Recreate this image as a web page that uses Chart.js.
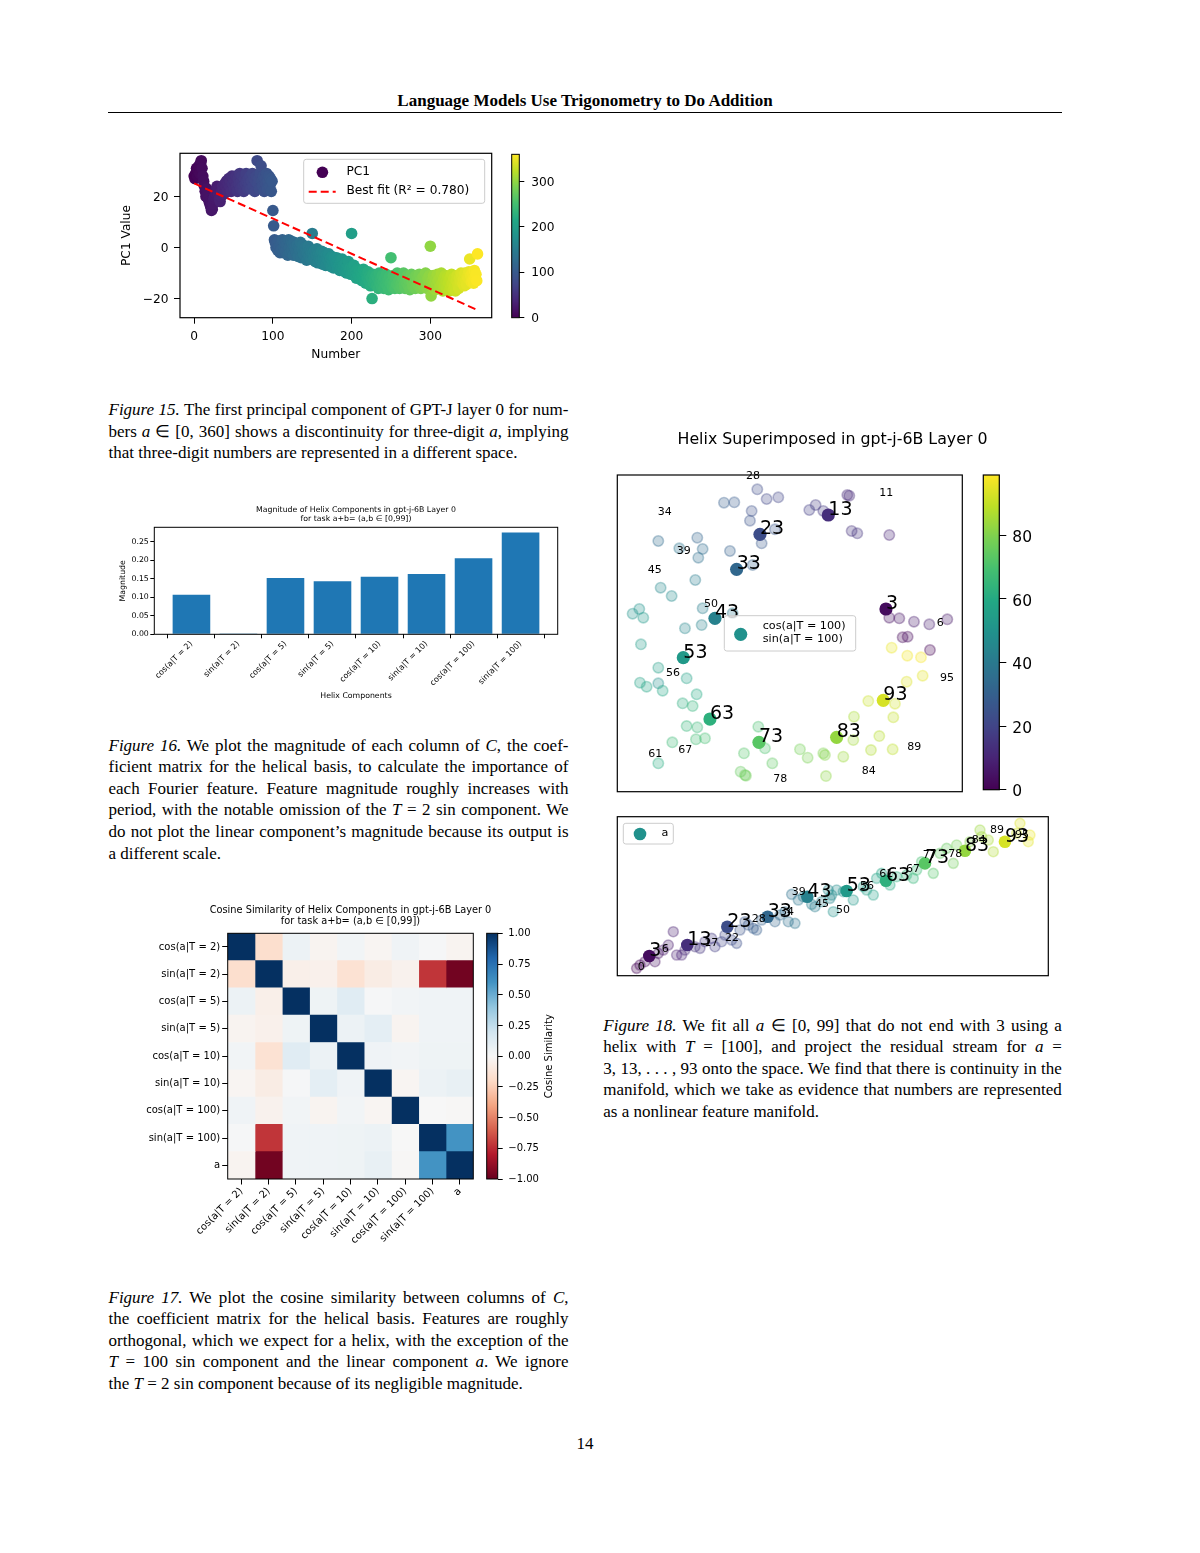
<!DOCTYPE html>
<html><head><meta charset="utf-8">
<script src="https://cdn.jsdelivr.net/npm/chart.js@4.4.0/dist/chart.umd.min.js"></script>
<style>
html,body{margin:0;padding:0;background:#fff;}
body{width:1200px;height:1553px;position:relative;overflow:hidden;font-family:'Liberation Serif','Times New Roman',serif;color:#000;}
canvas{position:absolute;}
.hdr{position:absolute;left:108px;width:954px;top:90px;text-align:center;font-weight:bold;font-size:17px;line-height:21.7px;}
.rule{position:absolute;left:108px;width:954px;top:111.6px;height:0;border-top:1.3px solid #000;}
.cap{position:absolute;font-size:17px;line-height:21.65px;}
.cap .l{white-space:nowrap;}
.pnum{position:absolute;left:0;width:1170px;top:1433px;text-align:center;font-size:17px;line-height:21.7px;}
</style></head>
<body>
<div class="hdr">Language Models Use Trigonometry to Do Addition</div>
<div class="rule"></div>

<canvas id="c15" width="400" height="230" style="left:100px;top:140px"></canvas>
<canvas id="c15cb" width="70" height="230" style="left:505px;top:140px"></canvas>
<canvas id="c16" width="460" height="215" style="left:110px;top:495px"></canvas>
<canvas id="c17" width="430" height="360" style="left:140px;top:895px"></canvas>
<canvas id="c17cb" width="90" height="360" style="left:480px;top:895px"></canvas>
<canvas id="c18a" width="445" height="385" style="left:605px;top:420px"></canvas>
<canvas id="c18cb" width="75" height="385" style="left:975px;top:420px"></canvas>
<canvas id="c18b" width="450" height="175" style="left:605px;top:810px"></canvas>

<div class="cap" style="left:108.5px;top:399px;width:460px">
<div class="l"><span><i>Figure 15.</i> The first principal component of GPT-J layer 0 for num-</span></div>
<div class="l"><span>bers <i>a</i> ∈ [0, 360] shows a discontinuity for three-digit <i>a</i>, implying</span></div>
<div class="l last"><span>that three-digit numbers are represented in a different space.</span></div>
</div>

<div class="cap" style="left:108.5px;top:734.5px;width:460px">
<div class="l"><span><i>Figure 16.</i> We plot the magnitude of each column of <i>C</i>, the coef-</span></div>
<div class="l"><span>ficient matrix for the helical basis, to calculate the importance of</span></div>
<div class="l"><span>each Fourier feature. Feature magnitude roughly increases with</span></div>
<div class="l"><span>period, with the notable omission of the <i>T</i> = 2 sin component. We</span></div>
<div class="l"><span>do not plot the linear component’s magnitude because its output is</span></div>
<div class="l last"><span>a different scale.</span></div>
</div>

<div class="cap" style="left:108.5px;top:1286.5px;width:460px">
<div class="l"><span><i>Figure 17.</i> We plot the cosine similarity between columns of <i>C</i>,</span></div>
<div class="l"><span>the coefficient matrix for the helical basis. Features are roughly</span></div>
<div class="l"><span>orthogonal, which we expect for a helix, with the exception of the</span></div>
<div class="l"><span><i>T</i> = 100 sin component and the linear component <i>a</i>. We ignore</span></div>
<div class="l last"><span>the <i>T</i> = 2 sin component because of its negligible magnitude.</span></div>
</div>

<div class="cap" style="left:603.3px;top:1014.5px;width:458.5px">
<div class="l"><span><i>Figure 18.</i> We fit all <i>a</i> ∈ [0, 99] that do not end with 3 using a</span></div>
<div class="l"><span>helix with <i>T</i> = [100], and project the residual stream for <i>a</i> =</span></div>
<div class="l"><span>3, 13, . . . , 93 onto the space. We find that there is continuity in the</span></div>
<div class="l"><span>manifold, which we take as evidence that numbers are represented</span></div>
<div class="l last"><span>as a nonlinear feature manifold.</span></div>
</div>

<div class="pnum">14</div>

<script>
// ---------------- DATA ----------------
// Figure 15: PC1 value for each number a = 0..360
const pc1Values = [
 28, 27, 29, 31, 28, 30, 32, 29, 33, 34,
 31, 28, 26, 24, 22, 20, 23, 21, 19, 18,
 17, 16, 14.5, 15, 17, 19, 20, 22, 21, 24,
 23, 21, 19, 18, 20, 22, 24, 23, 21, 25,
 24, 26, 22, 25, 27, 24, 26, 22, 28, 25,
 27, 23, 26, 28, 24, 22, 27, 25, 29, 23,
 26, 28, 24, 22, 27, 25, 29, 26, 23, 27,
 25, 28, 23, 26, 29, 24, 27, 22, 26, 28,
 34, 25, 27, 23, 29, 32, 26, 24, 28, 22,
 27, 25, 29, 23, 26, 28, 24, 27, 22, 26,
 14.5, 8.5, 3, 2, 0, 1.5, -1, 2.5, 0.5, -2,
 1, -0.5, 3, -2, 0, 2, -1.5, 2.5, 1, -3,
 3, 0, -2, 2.5, -1, 1.5, -3, 2, 0, -1,
 -2, 1, -3.5, 0, -1, 2, -4, -0.5, 1, -2.5,
 -3, 0, -1.5, -5, -2, 0.5, -3.5, -1, -4.5, -2,
 5.5, -2, -4, -1, -5.5, -3, -0.5, -6, -2.5, -4,
 -3, -5, -1.5, -6.5, -4, -2, -5, -7, -3, -4.5,
 -5, -2.5, -6, -4, -7.5, -3.5, -5.5, -8, -4, -6,
 -6, -4, -8, -5, -7, -9, -5.5, -7.5, -4.5, -8.5,
 -7, -9.5, -6, -8, -10, -7.5, -5.5, -9, -8, -10.5,
 5.5, -8, -10, -7, -11, -9, -12, -8.5, -10.5, -11.5,
 -9, -12, -10, -13, -11, -8.5, -12.5, -10, -14, -11,
 -12, -9.5, -13.5, -11, -15, -12, -20, -10.5, -14, -12.5,
 -13, -11, -15, -12, -16, -10, -14, -12.5, -15.5, -11,
 -13.5, -16, -12, -14.5, -10.5, -15, -13, -16.5, -11.5, -14,
 -4, -13, -15.5, -11, -14, -16, -12, -14.5, -10, -15,
 -13, -16, -11.5, -14, -15.5, -12, -10, -14.5, -16, -12.5,
 -14, -11, -15, -13, -16.5, -12, -10.5, -14, -15.5, -12,
 -13.5, -16, -11, -14.5, -12, -15, -10.5, -13, -16, -12.5,
 -14, -11.5, -15.5, -13, -10, -14.5, -16, -12, -13.5, -11,
 0.5, -19, -13, -15.5, -11, -14, -16.5, -12, -14.5, -10.5,
 -13, -16, -12, -15, -10, -14, -17, -12.5, -15, -11,
 -13.5, -16, -11.5, -14, -17, -12, -15.5, -10.5, -14, -16.5,
 -12, -15, -17, -13, -11, -14.5, -16, -12, -13.5, -10,
 -11, -14, -12.5, -15, -10, -13, -14.5, -11.5, -12, -9.5,
 -4.5, -11, -13.5, -10, -12.5, -14, -9, -12, -10.5, -13,
 -2.5
];
const pcXTicks = [0, 100, 200, 300];
const pcYTicks = [-20, 0, 20];
const pcCbTicks = [0, 100, 200, 300];
const fitX = [0, 360];
const fitY = [25.1, -24.5];
const fitLabel = 'Best fit (R\u00b2 = 0.780)';

// Figure 16
const helixComponents = ['cos(a|T = 2)','sin(a|T = 2)','cos(a|T = 5)','sin(a|T = 5)','cos(a|T = 10)','sin(a|T = 10)','cos(a|T = 100)','sin(a|T = 100)'];
const helixMagnitudes = [0.107, 0.0005, 0.152, 0.143, 0.155, 0.163, 0.205, 0.275];
const magTicks = [0, 0.05, 0.10, 0.15, 0.20, 0.25];

// Figure 17
const cosLabels = ['cos(a|T = 2)','sin(a|T = 2)','cos(a|T = 5)','sin(a|T = 5)','cos(a|T = 10)','sin(a|T = 10)','cos(a|T = 100)','sin(a|T = 100)','a'];
const cosRowCos2   = [ 1.00, -0.17,  0.06, -0.03,  0.03, -0.02,  0.04,  0.01, -0.03];
const cosRowSin2   = [-0.17,  1.00, -0.06, -0.05, -0.15, -0.08, -0.04, -0.72, -0.97];
const cosRowCos5   = [ 0.06, -0.06,  1.00,  0.05,  0.12,  0.01,  0.03,  0.04,  0.04];
const cosRowSin5   = [-0.03, -0.05,  0.05,  1.00,  0.06,  0.10, -0.03,  0.04,  0.04];
const cosRowCos10  = [ 0.03, -0.15,  0.12,  0.06,  1.00,  0.04,  0.03,  0.05,  0.05];
const cosRowSin10  = [-0.02, -0.08,  0.01,  0.10,  0.04,  1.00, -0.02,  0.06,  0.08];
const cosRowCos100 = [ 0.04, -0.04,  0.03, -0.03,  0.03, -0.02,  1.00,  0.00, -0.01];
const cosRowSin100 = [ 0.01, -0.72,  0.04,  0.04,  0.05,  0.06,  0.00,  1.00,  0.60];
const cosRowA      = [-0.03, -0.97,  0.04,  0.04,  0.05,  0.08, -0.01,  0.60,  1.00];
const cosMatrix = [cosRowCos2, cosRowSin2, cosRowCos5, cosRowSin5, cosRowCos10, cosRowSin10, cosRowCos100, cosRowSin100, cosRowA];
const cosCbTicks = [-1, -0.75, -0.5, -0.25, 0, 0.25, 0.5, 0.75, 1];

// Figure 18 (top): projection onto cos/sin(a|T=100)
const topBigA = [3, 13, 23, 33, 43, 53, 63, 73, 83, 93];
const topBigX = [0.288, 0.115, -0.090, -0.160, -0.225, -0.320, -0.240, -0.093, 0.140, 0.280];
const topBigY = [0.073, 0.355, 0.297, 0.192, 0.045, -0.073, -0.257, -0.327, -0.312, -0.201];
const topFitA = [0,1,2,4,5,6,7,8, 10,11,12,14,15,16,17,18, 20,21,22,24,25,26,27,28,29, 30,31,32,34,35,36,38, 40,41,42,44,45,46,47,49, 50,51,52,54,55,56,57,58,59, 60,61,62,64,65,66,67,68,69, 70,71,72,74,75,76,77,78,79, 80,81,82,84,85,86,87,88,89, 90,91,92,94,95,96,97,98];
const topFitX = [0.420,0.338,0.353,0.298,0.328,0.472,0.372,0.418, 0.298,0.172,0.178,0.185,0.202,0.100,0.077,0.058, -0.035,-0.070,-0.098,-0.115,-0.120,-0.045,-0.085,-0.167,-0.198, -0.180,-0.112,-0.278,-0.395,-0.262,-0.275,-0.332, -0.172,-0.284,-0.262,-0.265,-0.315,-0.388,-0.355,-0.395, -0.452,-0.472,-0.440,-0.447,-0.395,-0.310,-0.450,-0.430,-0.382, -0.280,-0.395,-0.322,-0.292,-0.310,-0.278,-0.353,-0.282,-0.255, -0.095,-0.075,-0.138,-0.053,-0.148,-0.135,-0.132,0.030,0.053, 0.100,0.105,0.108,0.160,0.190,0.192,0.243,0.268,0.308, 0.310,0.235,0.315,0.350,0.398,0.305,0.352,0.393];
const topFitY = [-0.050,-0.012,-0.010,0.047,0.045,0.042,0.035,0.027, 0.295,0.415,0.413,0.307,0.300,0.367,0.385,0.370, 0.408,0.403,0.432,0.367,0.338,0.312,0.270,0.393,0.392, 0.247,0.205,0.287,0.277,0.253,0.227,0.255, 0.060,0.160,0.075,0.025,0.015,0.137,0.112,-0.150, 0.073,0.059,0.047,-0.033,-0.103,-0.135,-0.148,-0.160,-0.172, -0.183,-0.390,-0.210,-0.218,-0.278,-0.282,-0.327,-0.318,-0.315, -0.280,-0.345,-0.360,-0.390,-0.415,-0.425,-0.427,-0.348,-0.373, -0.360,-0.365,-0.428,-0.370,-0.320,-0.250,-0.350,-0.308,-0.348, -0.252,-0.203,-0.211,-0.145,-0.127,-0.043,-0.067,-0.072];
const topTagA = [28, 11, 34, 39, 45, 50, 6, 95, 56, 61, 67, 78, 84, 89];
const topTagX = [-0.132, 0.268, -0.397, -0.340, -0.427, -0.258, 0.440, 0.450, -0.372, -0.425, -0.335, -0.050, 0.215, 0.352];
const topTagY = [0.463, 0.412, 0.355, 0.238, 0.180, 0.080, 0.023, -0.143, -0.127, -0.370, -0.360, -0.447, -0.423, -0.350];
const topLegend = ['cos(a|T = 100)', 'sin(a|T = 100)'];
const cb18Ticks = [0, 20, 40, 60, 80];

// Figure 18 (bottom): projection onto a
const botBigA = [3, 13, 23, 33, 43, 53, 63, 73, 83, 93];
const botBigX = [-0.552, -0.438, -0.318, -0.197, -0.078, 0.040, 0.158, 0.275, 0.395, 0.515];
const botBigY = [-0.178, -0.145, -0.090, -0.060, 0.000, 0.017, 0.048, 0.100, 0.138, 0.165];
const botFitA = [0,1,2,4,5,6,7,8,9, 10,11,14,15,16,17,18, 20,21,22,24,25,26,27,28,29, 30,32,34,35,36,37,38,39, 40,41,42,44,45,46,47,48,49, 50,52,54,55,56,57,58, 60,62,64,65,67,69, 72,74,75,77,78, 81,84,85,86,87, 92,94,95,96];
const botFitX = [-0.590,-0.580,-0.565,-0.535,-0.525,-0.510,-0.495,-0.480,-0.470, -0.455,-0.445,-0.415,-0.400,-0.385,-0.365,-0.355, -0.335,-0.325,-0.305,-0.290,-0.280,-0.265,-0.255,-0.240,-0.230, -0.215,-0.175,-0.160,-0.145,-0.135,-0.125,-0.115,-0.105, -0.090,-0.055,-0.065,-0.035,-0.010,-0.015,-0.005,0.010,0.030, 0.000,0.060,0.090,0.100,0.120,0.130,0.145, 0.170,0.190,0.220,0.240,0.250,0.265, 0.300,0.320,0.340,0.360,0.370, 0.410,0.440,0.445,0.465,0.480, 0.550,0.560,0.585,0.590];
const botFitY = [-0.215,-0.205,-0.195,-0.195,-0.170,-0.160,-0.145,-0.105,-0.175, -0.175,-0.160,-0.150,-0.155,-0.135,-0.125,-0.150, -0.135,-0.115,-0.130,-0.140,-0.100,-0.075,-0.085,-0.095,-0.100, -0.070,-0.075,-0.055,-0.045,-0.075,0.007,-0.080,-0.010, 0.000,-0.030,-0.023,-0.015,-0.005,0.020,0.005,0.020,0.015, -0.045,-0.010,0.030,0.020,0.005,0.055,0.070, 0.035,0.060,0.065,0.055,0.080,0.105, 0.070,0.130,0.145,0.100,0.155, 0.165,0.200,0.180,0.170,0.135, 0.190,0.220,0.165,0.185];
const botTagA = [0, 6, 17, 22, 28, 34, 39, 45, 50, 56, 61, 67, 77, 78, 84, 89, 95];
const botTagX = [-0.587, -0.515, -0.387, -0.325, -0.245, -0.160, -0.125, -0.055, 0.008, 0.080, 0.138, 0.218, 0.268, 0.345, 0.415, 0.470, 0.545];
const botTagY = [-0.220, -0.165, -0.148, -0.133, -0.075, -0.055, 0.005, -0.030, -0.048, 0.023, 0.060, 0.075, 0.117, 0.120, 0.160, 0.190, 0.177];
const botLegend = ['a'];

// ---------------- HELPERS ----------------
const VIRIDIS = ['#440154','#482475','#414487','#355f8d','#2a788e','#21918c','#22a884','#44bf70','#7ad151','#bddf26','#fde725'];
const RDBU = ['#67001f','#b2182b','#d6604d','#f4a582','#fddbc7','#f7f7f7','#d1e5f0','#92c5de','#4393c3','#2166ac','#053061'];
function hexRgb(h){return [parseInt(h.slice(1,3),16),parseInt(h.slice(3,5),16),parseInt(h.slice(5,7),16)];}
function cmap(stops,t,alpha){t=Math.max(0,Math.min(1,t));const n=stops.length-1;const f=t*n;const i=Math.min(Math.floor(f),n-1);const u=f-i;const a=hexRgb(stops[i]),b=hexRgb(stops[i+1]);const c=a.map((v,k)=>Math.round(v+(b[k]-v)*u));return alpha==null?`rgb(${c.join(',')})`:`rgba(${c.join(',')},${alpha})`;}
const minus = v => (v < 0 ? '\u2212' + String(Math.abs(v)) : String(v));
const minus2 = v => (v < 0 ? '\u2212' + Math.abs(v).toFixed(2) : v.toFixed(2));
const fixedTicks = vals => s => { s.ticks = vals.map(v => ({value: v})); };
const gridOpt = len => ({display:true, drawOnChartArea:false, drawTicks:true, tickLength:len, color:'#000', lineWidth:1});
const FONT = 'DejaVu Sans';

Chart.defaults.font.family = FONT;
Chart.defaults.color = '#000';
Chart.defaults.animation = false;
Chart.defaults.responsive = false;
Chart.defaults.maintainAspectRatio = false;
Chart.defaults.plugins.legend.display = false;
Chart.defaults.plugins.tooltip.enabled = false;
Chart.defaults.events = [];

function framePlugin(lw){ return {id:'frame', afterDatasetsDraw(c){const a=c.chartArea,x=c.ctx;x.save();x.strokeStyle='#000';x.lineWidth=lw;x.strokeRect(a.left,a.top,a.right-a.left,a.bottom-a.top);x.restore();}}; }
function gradientPlugin(stops){ return {id:'grad', beforeDatasetsDraw(c){const ys=c.scales.y,a=c.chartArea,x=c.ctx;const y0=ys.getPixelForValue(ys.min),y1=ys.getPixelForValue(ys.max);const g=x.createLinearGradient(0,y0,0,y1);for(let i=0;i<=40;i++){g.addColorStop(i/40,cmap(stops,i/40));}x.save();x.fillStyle=g;x.fillRect(a.left,y1,a.right-a.left,y0-y1);x.restore();}}; }
function legendBox(ctx,x,y,w,h){ctx.save();ctx.beginPath();if(ctx.roundRect){ctx.roundRect(x,y,w,h,2.5);}else{ctx.rect(x,y,w,h);}ctx.fillStyle='rgba(255,255,255,0.8)';ctx.fill();ctx.strokeStyle='#cccccc';ctx.lineWidth=1;ctx.stroke();ctx.restore();}
function cv(id){return document.getElementById(id);}

// ---------------- FIGURE 15 ----------------
new Chart(cv('c15'), {
  type:'scatter',
  data:{datasets:[
    {type:'line', data: fitX.map((x,i)=>({x, y:fitY[i]})), borderColor:'#ff0000', borderWidth:2, borderDash:[8,4], pointRadius:0, fill:false, tension:0},
    {data: pc1Values.map((y,i)=>({x:i, y})), pointRadius:5.8, pointBackgroundColor: pc1Values.map((_,i)=>cmap(VIRIDIS,i/360)), pointBorderWidth:0}
  ]},
  options:{
    layout:{padding:{left:0,right:8.3,top:13.3,bottom:0}},
    scales:{
      x:{type:'linear',min:-18,max:378,afterBuildTicks:fixedTicks(pcXTicks),afterFit:s=>{s.height=52.3;},grid:gridOpt(6),border:{display:false},
         ticks:{padding:6,font:{size:12.2},callback:minus,autoSkip:false,maxRotation:0},
         title:{display:true,text:'Number',font:{size:12.2},padding:{top:0,bottom:7.8}}},
      y:{type:'linear',min:-27.5,max:36.9,afterBuildTicks:fixedTicks(pcYTicks),afterFit:s=>{s.width=80;},grid:gridOpt(6),border:{display:false},
         ticks:{padding:5.5,font:{size:12.2},callback:minus,labelOffset:1},
         title:{display:true,text:'PC1 Value',font:{size:12.2},padding:{top:19.5,bottom:0}}}
    }
  },
  plugins:[framePlugin(1.2), {id:'leg15', afterDraw(c){
    const a=c.chartArea, x=c.ctx; const bx=a.right-188, by=a.top+6;
    legendBox(x,bx,by,181,44);
    x.save();
    x.fillStyle=cmap(VIRIDIS,0); x.beginPath(); x.arc(bx+18.7,by+13,5.8,0,Math.PI*2); x.fill();
    x.strokeStyle='#ff0000'; x.lineWidth=2; x.setLineDash([8,4]); x.beginPath(); x.moveTo(bx+5,by+32.4); x.lineTo(bx+32,by+32.4); x.stroke(); x.setLineDash([]);
    x.fillStyle='#000'; x.font='12.2px '+FONT; x.textBaseline='middle'; x.textAlign='left';
    x.fillText('PC1',bx+42.7,by+12.5); x.fillText(fitLabel,bx+42.7,by+32);
    x.restore();
  }}]
});
new Chart(cv('c15cb'), {
  type:'scatter', data:{datasets:[]},
  options:{layout:{padding:{left:6.7,right:0,top:13.3,bottom:52.3}},
    scales:{x:{display:false,min:0,max:1},
      y:{position:'right',min:0,max:360,afterBuildTicks:fixedTicks(pcCbTicks),afterFit:s=>{s.width=55.7;},grid:gridOpt(5),border:{display:false},ticks:{padding:7,font:{size:12.2},labelOffset:1}}}},
  plugins:[gradientPlugin(VIRIDIS), framePlugin(1)]
});

// ---------------- FIGURE 16 ----------------
new Chart(cv('c16'), {
  type:'bar',
  data:{datasets:[{data: helixMagnitudes.map((y,i)=>({x:i,y})), backgroundColor:'#1f77b4', barPercentage:0.8, categoryPercentage:1, borderWidth:0}]},
  options:{
    layout:{padding:{left:0,right:12.3,top:32.3,bottom:0}},
    scales:{
      x:{type:'linear',offset:false,min:-0.79,max:7.79,afterBuildTicks:s=>{s.ticks=helixComponents.map((_,i)=>({value:i}));},afterFit:s=>{s.height=75.7;},
         grid:gridOpt(4),border:{display:false},
         ticks:{callback:(v,i)=>helixComponents[i],minRotation:45,maxRotation:45,autoSkip:false,font:{size:8},padding:1},
         title:{display:true,text:'Helix Components',font:{size:7.8},padding:{top:0,bottom:9.3}}},
      y:{min:0,max:0.2887,afterBuildTicks:fixedTicks(magTicks),afterFit:s=>{s.width=44.3;},grid:gridOpt(4),border:{display:false},
         ticks:{callback:v=>v.toFixed(2),font:{size:7.8},padding:1.5},
         title:{display:true,text:'Magnitude',font:{size:7.8},padding:{top:8.6,bottom:0}}}
    }
  },
  plugins:[framePlugin(1), {id:'t16', afterDraw(c){const a=c.chartArea,x=c.ctx;const cx=(a.left+a.right)/2;x.save();x.fillStyle='#000';x.font='7.8px '+FONT;x.textAlign='center';x.textBaseline='middle';
    x.fillText('Magnitude of Helix Components in gpt-j-6B Layer 0',cx,15);x.fillText('for task a+b= (a,b \u2208 [0,99])',cx,24.3);x.restore();}}]
});

// ---------------- FIGURE 17 ----------------
new Chart(cv('c17'), {
  type:'bar',
  data:{labels:cosLabels, datasets: cosLabels.map((_,j)=>({
    data: cosLabels.map(()=>1),
    backgroundColor: cosMatrix.map(row=>cmap(RDBU,(row[j]+1)/2)),
    borderWidth:0, barPercentage:1, categoryPercentage:1
  }))},
  options:{
    indexAxis:'y',
    layout:{padding:{left:0,right:96.7,top:38.3,bottom:0}},
    scales:{
      x:{type:'linear',stacked:true,min:0,max:cosLabels.length,afterBuildTicks:s=>{s.ticks=cosLabels.map((_,i)=>({value:i+0.5}));},afterFit:s=>{s.height=76;},
         grid:gridOpt(5.5),border:{display:false},
         ticks:{callback:(v,i)=>cosLabels[i],minRotation:45,maxRotation:45,autoSkip:false,font:{size:10},padding:1}},
      y:{type:'category',stacked:true,offset:true,afterFit:s=>{s.width=87.7;},grid:Object.assign(gridOpt(5.5),{offset:false}),border:{display:false},
         ticks:{autoSkip:false,font:{size:10},padding:2}}
    }
  },
  plugins:[framePlugin(1), {id:'t17', afterDraw(c){const a=c.chartArea,x=c.ctx;const cx=(a.left+a.right)/2;x.save();x.fillStyle='#000';x.font='9.8px '+FONT;x.textAlign='center';x.textBaseline='middle';
    x.fillText('Cosine Similarity of Helix Components in gpt-j-6B Layer 0',cx,15);x.fillText('for task a+b= (a,b \u2208 [0,99])',cx,26.7);x.restore();}}]
});
new Chart(cv('c17cb'), {
  type:'scatter', data:{datasets:[]},
  options:{layout:{padding:{left:6.7,right:0,top:38.3,bottom:76}},
    scales:{x:{display:false,min:0,max:1},
      y:{position:'right',min:-1,max:1,afterBuildTicks:fixedTicks(cosCbTicks),afterFit:s=>{s.width=72.3;},grid:gridOpt(5),border:{display:false},ticks:{padding:5.6,font:{size:10},callback:minus2,labelOffset:0.5}}}},
  plugins:[gradientPlugin(RDBU), framePlugin(1), {id:'cbl', afterDraw(c){const a=c.chartArea,x=c.ctx;x.save();x.fillStyle='#000';x.font='10px '+FONT;x.textAlign='center';x.textBaseline='middle';
    x.translate(549.3-480,(a.top+a.bottom)/2);x.rotate(-Math.PI/2);x.fillText('Cosine Similarity',0,0);x.restore();}}]
});

// ---------------- FIGURE 18 ----------------
function tagPlugin(bigA,bigX,bigY,tagA,tagX,tagY){ return {id:'tags', afterDatasetsDraw(c){
  const xs=c.scales.x, ys=c.scales.y, x=c.ctx; x.save(); x.fillStyle='#000'; x.textAlign='left'; x.textBaseline='alphabetic';
  x.font='11px '+FONT; tagA.forEach((a,i)=>x.fillText(String(a), xs.getPixelForValue(tagX[i]), ys.getPixelForValue(tagY[i])));
  x.font='19px '+FONT; bigA.forEach((a,i)=>x.fillText(String(a), xs.getPixelForValue(bigX[i]), ys.getPixelForValue(bigY[i])));
  x.restore(); }}; }
function helixDatasets(bigA,bigX,bigY,fitA,fitXs,fitYs,rBig,rFit){ return [
  {data: bigA.map((a,i)=>({x:bigX[i],y:bigY[i]})), pointRadius:rBig, pointBackgroundColor: bigA.map(a=>cmap(VIRIDIS,a/99)), pointBorderWidth:0},
  {data: fitA.map((a,i)=>({x:fitXs[i],y:fitYs[i]})), pointRadius:rFit, pointBackgroundColor: fitA.map(a=>cmap(VIRIDIS,a/99,0.28)), pointBorderColor: fitA.map(a=>cmap(VIRIDIS,a/99,0.34)), pointBorderWidth:1.6}
]; }

new Chart(cv('c18a'), {
  type:'scatter',
  data:{datasets: helixDatasets(topBigA,topBigX,topBigY,topFitA,topFitX,topFitY,6.6,5.2)},
  options:{layout:{padding:{left:12.3,right:87.7,top:55,bottom:13.3}},
    scales:{x:{display:false,min:-0.518,max:0.517},y:{display:false,min:-0.475,max:0.475}}},
  plugins:[framePlugin(1.2), tagPlugin(topBigA,topBigX,topBigY,topTagA,topTagX,topTagY), {id:'leg18a', afterDraw(c){
    const a=c.chartArea, x=c.ctx; const bx=a.left+107, by=a.top+140.7;
    legendBox(x,bx,by,131.4,35.3);
    x.save(); x.fillStyle=cmap(VIRIDIS,0.5); x.beginPath(); x.arc(a.left+123.4,a.top+159.3,6.6,0,Math.PI*2); x.fill();
    x.fillStyle='#000'; x.font='11.2px '+FONT; x.textAlign='left'; x.textBaseline='middle';
    x.fillText(topLegend[0],a.left+145.4,a.top+151.3); x.fillText(topLegend[1],a.left+145.4,a.top+164);
    x.font='15.8px '+FONT; x.textAlign='center'; x.fillText('Helix Superimposed in gpt-j-6B Layer 0',832.5-605,19.5);
    x.restore();
  }}]
});
new Chart(cv('c18cb'), {
  type:'scatter', data:{datasets:[]},
  options:{layout:{padding:{left:8.3,right:0,top:55,bottom:13.3}},
    scales:{x:{display:false,min:0,max:1},
      y:{position:'right',min:0,max:99,afterBuildTicks:fixedTicks(cb18Ticks),afterFit:s=>{s.width=50.7;},grid:gridOpt(7),border:{display:false},ticks:{padding:6,font:{size:15.5},labelOffset:2.5}}}},
  plugins:[gradientPlugin(VIRIDIS), framePlugin(1.2)]
});
new Chart(cv('c18b'), {
  type:'scatter',
  data:{datasets: helixDatasets(botBigA,botBigX,botBigY,botFitA,botFitX,botFitY,6.3,5)},
  options:{layout:{padding:{left:12.3,right:6.7,top:6.7,bottom:9.3}},
    scales:{x:{display:false,min:-0.648,max:0.645},y:{display:false,min:-0.237,max:0.240}}},
  plugins:[framePlugin(1.2), tagPlugin(botBigA,botBigX,botBigY,botTagA,botTagX,botTagY), {id:'leg18b', afterDraw(c){
    const a=c.chartArea, x=c.ctx;
    legendBox(x,a.left+6,a.top+6.6,50,20.7);
    x.save(); x.fillStyle=cmap(VIRIDIS,0.5); x.beginPath(); x.arc(a.left+22.7,a.top+17.3,6.3,0,Math.PI*2); x.fill();
    x.fillStyle='#000'; x.font='11.2px '+FONT; x.textAlign='center'; x.textBaseline='middle'; x.fillText(botLegend[0],a.left+47.7,a.top+16.8);
    x.restore();
  }}]
});

// ---------------- caption justification ----------------
document.querySelectorAll('.cap').forEach(cap=>{
  const W=parseFloat(cap.style.width);
  cap.querySelectorAll('.l').forEach(l=>{
    if(l.classList.contains('last')) return;
    const s=l.firstElementChild; const w=s.getBoundingClientRect().width;
    const n=(s.textContent.match(/ /g)||[]).length;
    if(n) s.style.wordSpacing=((W-w)/n)+'px';
  });
});
</script>
</body></html>
